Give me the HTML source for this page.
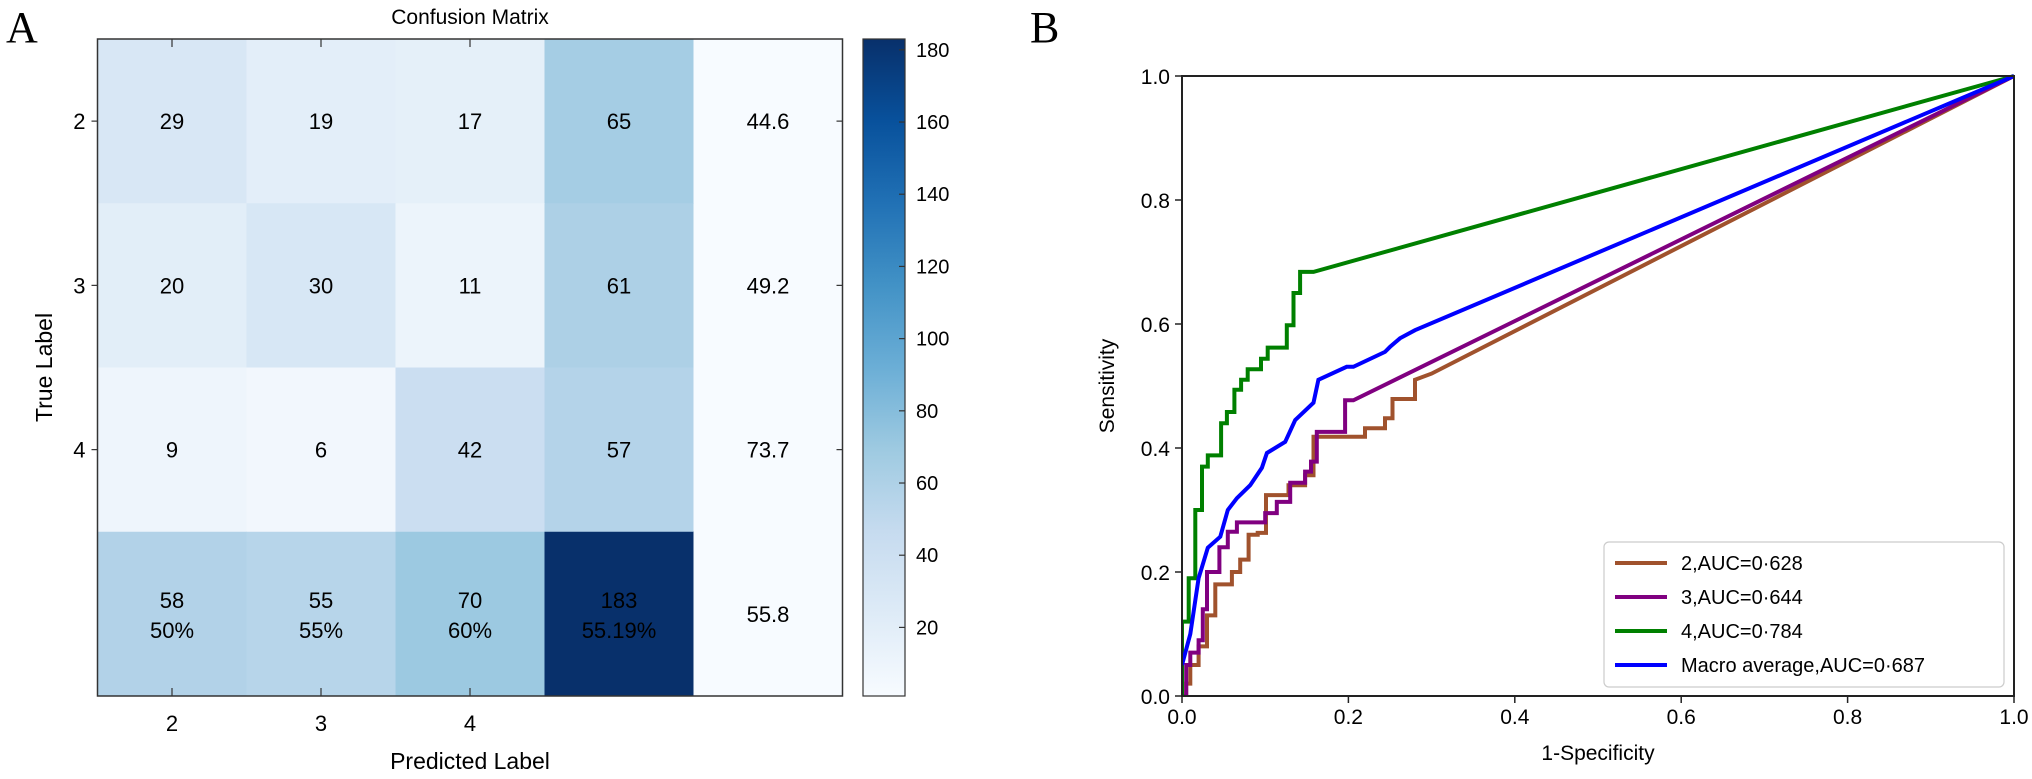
<!DOCTYPE html>
<html><head><meta charset="utf-8"><style>
body{margin:0;background:#fff;}
svg text{font-family:"Liberation Sans",sans-serif;}
</style></head><body>
<svg id="s" width="2032" height="774" viewBox="0 0 2032 774" xmlns="http://www.w3.org/2000/svg">
<text x="6" y="42" font-size="44" style="font-family:'Liberation Serif',serif">A</text>
<text x="1030" y="42" font-size="44" style="font-family:'Liberation Serif',serif">B</text>
<g id="cm"></g>
<g id="cb"></g>
<g id="roc"></g>
</svg>
<script>
const cmRowLabels=["2","3","4",""];
const cmColLabels=["2","3","4"];
const cmValues=[[29,19,17,65],[20,30,11,61],[9,6,42,57],[58,55,70,183]];
const cmRowPct=["44.6","49.2","73.7","55.8"];
const cmColPct=["50%","55%","60%","55.19%"];
const cbTicks=[20,40,60,80,100,120,140,160,180];
const rocX2=[0,0.005,0.005,0.01,0.01,0.02,0.02,0.03,0.03,0.04,0.04,0.06,0.06,0.07,0.07,0.08,0.08,0.091,0.091,0.101,0.101,0.128,0.128,0.148,0.148,0.158,0.158,0.22,0.22,0.244,0.244,0.253,0.253,0.28,0.28,0.3,1];
const rocY2=[0,0,0.02,0.02,0.05,0.05,0.08,0.08,0.13,0.13,0.18,0.18,0.2,0.2,0.22,0.22,0.26,0.26,0.263,0.263,0.324,0.324,0.34,0.34,0.356,0.356,0.418,0.418,0.432,0.432,0.448,0.448,0.479,0.479,0.51,0.52,1];
const rocX3=[0,0.005,0.005,0.01,0.01,0.02,0.02,0.025,0.025,0.03,0.03,0.045,0.045,0.055,0.055,0.066,0.066,0.1,0.1,0.114,0.114,0.13,0.13,0.148,0.148,0.155,0.155,0.162,0.162,0.196,0.196,0.206,1];
const rocY3=[0,0,0.05,0.05,0.07,0.07,0.09,0.09,0.14,0.14,0.2,0.2,0.24,0.24,0.265,0.265,0.28,0.28,0.295,0.295,0.313,0.313,0.344,0.344,0.362,0.362,0.378,0.378,0.426,0.426,0.477,0.477,1];
const rocX4=[0,0,0.008,0.008,0.016,0.016,0.024,0.024,0.031,0.031,0.047,0.047,0.054,0.054,0.063,0.063,0.071,0.071,0.079,0.079,0.095,0.095,0.103,0.103,0.126,0.126,0.134,0.134,0.142,0.142,0.158,1];
const rocY4=[0,0.12,0.12,0.19,0.19,0.30,0.30,0.37,0.37,0.388,0.388,0.44,0.44,0.458,0.458,0.494,0.494,0.51,0.51,0.527,0.527,0.544,0.544,0.562,0.562,0.598,0.598,0.65,0.65,0.684,0.684,1];
const rocXM=[0,0.01,0.02,0.031,0.046,0.055,0.066,0.082,0.096,0.102,0.124,0.136,0.158,0.164,0.198,0.206,0.244,0.25,0.262,0.28,1];
const rocYM=[0.05,0.1,0.19,0.239,0.257,0.30,0.319,0.34,0.368,0.392,0.41,0.445,0.473,0.51,0.531,0.531,0.555,0.563,0.577,0.59,1];
const legendLabels=["2,AUC=0·628","3,AUC=0·644","4,AUC=0·784","Macro average,AUC=0·687"];
const seriesColors=["#a0522d","#800080","#008000","#0000ff"];

const NS="http://www.w3.org/2000/svg";
function mk(p,t,a,txt){const e=document.createElementNS(NS,t);for(const k in a)e.setAttribute(k,a[k]);if(txt!==undefined)e.textContent=txt;p.appendChild(e);return e;}
const VMIN=1,VMAX=183;
const stops=["#f7fbff","#deebf7","#c6dbef","#9ecae1","#6baed6","#4292c6","#2171b5","#08519c","#08306b"];
function hx(h){return [1,3,5].map(i=>parseInt(h.substr(i,2),16));}
function blues(v){const t=Math.max(0,Math.min(1,(v-VMIN)/(VMAX-VMIN)))*8;const i=Math.min(7,Math.floor(t));const f=t-i;const a=hx(stops[i]),b=hx(stops[i+1]);return "rgb("+a.map((c,k)=>Math.round(c+(b[k]-c)*f)).join(",")+")";}

// confusion matrix
const cm=document.getElementById('cm');
const L=97.5,T=39,CW=149,RH=164.25;
const cx=c=>L+CW*(c+0.5), cy=r=>T+RH*(r+0.5);
const tt=mk(cm,'text',{x:L+CW*2.5,y:24,'font-size':21,'text-anchor':'middle'},"Confusion Matrix");

for(let r=0;r<4;r++){
  for(let c=0;c<5;c++){
    const v=c<4?cmValues[r][c]:0;
    const rc=mk(cm,'rect',{x:L+CW*c,y:T+RH*r,width:CW+0.5,height:RH+0.5,fill:blues(v)});
    
    
    if(c<4){
      if(r<3){mk(cm,'text',{x:cx(c),y:cy(r)+8,'font-size':22,'text-anchor':'middle'},String(v));}
      else{mk(cm,'text',{x:cx(c),y:cy(r)-6,'font-size':22,'text-anchor':'middle'},String(v));
           mk(cm,'text',{x:cx(c),y:cy(r)+24,'font-size':22,'text-anchor':'middle'},cmColPct[c]);}
    } else mk(cm,'text',{x:cx(c),y:cy(r)+8,'font-size':22,'text-anchor':'middle'},cmRowPct[r]);
  }
}
mk(cm,'rect',{x:L,y:T,width:CW*5,height:RH*4,fill:'none',stroke:'#333','stroke-width':1.5});
cmRowLabels.forEach((l,r)=>{if(!l)return;
  mk(cm,'line',{x1:L-6,x2:L,y1:cy(r),y2:cy(r),stroke:'#333','stroke-width':1.2});
  mk(cm,'line',{x1:L+CW*5,x2:L+CW*5-6,y1:cy(r),y2:cy(r),stroke:'#333','stroke-width':1.2});
  mk(cm,'text',{x:L-12,y:cy(r)+8,'font-size':22,'text-anchor':'end'},l);});
cmColLabels.forEach((l,c)=>{
  mk(cm,'line',{x1:cx(c),x2:cx(c),y1:T+RH*4,y2:T+RH*4-8,stroke:'#333','stroke-width':1.2});
  mk(cm,'line',{x1:cx(c),x2:cx(c),y1:T,y2:T+8,stroke:'#333','stroke-width':1.2});
  mk(cm,'text',{x:cx(c),y:731,'font-size':22,'text-anchor':'middle'},l);});
const xt=mk(cm,'text',{x:L+CW*2.5,y:769,'font-size':23,'text-anchor':'middle'},"Predicted Label");

const yt=mk(cm,'text',{x:52,y:T+RH*2,'font-size':23,'text-anchor':'middle',transform:'rotate(-90 52 '+(T+RH*2)+')'},"True Label");


// colorbar
const cb=document.getElementById('cb');
const CBX=863,CBW=42,CBT=39,CBB=696;
const cbY=v=>CBB-(v-VMIN)/(VMAX-VMIN)*(CBB-CBT);
const defs=mk(cb,'defs',{});const g=mk(defs,'linearGradient',{id:'bg',x1:0,y1:1,x2:0,y2:0});
stops.forEach((s,i)=>mk(g,'stop',{offset:i/8,'stop-color':s}));
mk(cb,'rect',{x:CBX,y:CBT,width:CBW,height:CBB-CBT,fill:'url(#bg)',stroke:'#333','stroke-width':1.2});
cbTicks.forEach(t=>{mk(cb,'line',{x1:CBX+CBW,x2:CBX+CBW-6,y1:cbY(t),y2:cbY(t),stroke:'#333','stroke-width':1.2});
  mk(cb,'text',{x:CBX+CBW+11,y:cbY(t)+7,'font-size':20},String(t));});

// ROC
const roc=document.getElementById('roc');
const X0=1182,X1=2014,Y0=696,Y1=76;
const sx=v=>X0+v*(X1-X0), sy=v=>Y0-v*(Y0-Y1);
const ticks=[0,0.2,0.4,0.6,0.8,1.0];
ticks.forEach(t=>{
  mk(roc,'line',{x1:sx(t),x2:sx(t),y1:Y0,y2:Y0+7,stroke:'#222','stroke-width':1.5});
  mk(roc,'text',{x:sx(t),y:724,'font-size':21,'text-anchor':'middle'},t.toFixed(1));
  mk(roc,'line',{x1:X0-7,x2:X0,y1:sy(t),y2:sy(t),stroke:'#222','stroke-width':1.5});
  mk(roc,'text',{x:X0-12,y:sy(t)+8,'font-size':21,'text-anchor':'end'},t.toFixed(1));});
const rx=mk(roc,'text',{x:(X0+X1)/2,y:760,'font-size':21,'text-anchor':'middle'},"1-Specificity");

const ry=mk(roc,'text',{x:1114,y:(Y0+Y1)/2,'font-size':21,'text-anchor':'middle',transform:'rotate(-90 1114 '+((Y0+Y1)/2)+')'},"Sensitivity");

const series=[[rocX2,rocY2],[rocX3,rocY3],[rocX4,rocY4],[rocXM,rocYM]];
const defsR=mk(roc,'defs',{});const cp=mk(defsR,'clipPath',{id:'rc'});mk(cp,'rect',{x:X0,y:Y1-3,width:X1-X0+3,height:Y0-Y1+3});
series.forEach((s,i)=>{const pts=s[0].map((x,k)=>sx(x).toFixed(1)+","+sy(s[1][k]).toFixed(1)).join(" ");
  const pl=mk(roc,'polyline',{points:pts,fill:'none',stroke:seriesColors[i],'stroke-width':4,'stroke-linejoin':'miter','clip-path':'url(#rc)'});
  
  });
mk(roc,'rect',{x:X0,y:Y1,width:X1-X0,height:Y0-Y1,fill:'none',stroke:'#222','stroke-width':2});
const lg=mk(roc,'g',{});


mk(lg,'rect',{x:1604,y:542,width:400,height:145,rx:5,fill:'#fff',stroke:'#ccc','stroke-width':1.2});
legendLabels.forEach((l,i)=>{const y=563+i*34;
  mk(lg,'line',{x1:1615,x2:1667,y1:y,y2:y,stroke:seriesColors[i],'stroke-width':4});
  mk(lg,'text',{x:1681,y:y+7,'font-size':20},l);});
</script>
</body></html>
